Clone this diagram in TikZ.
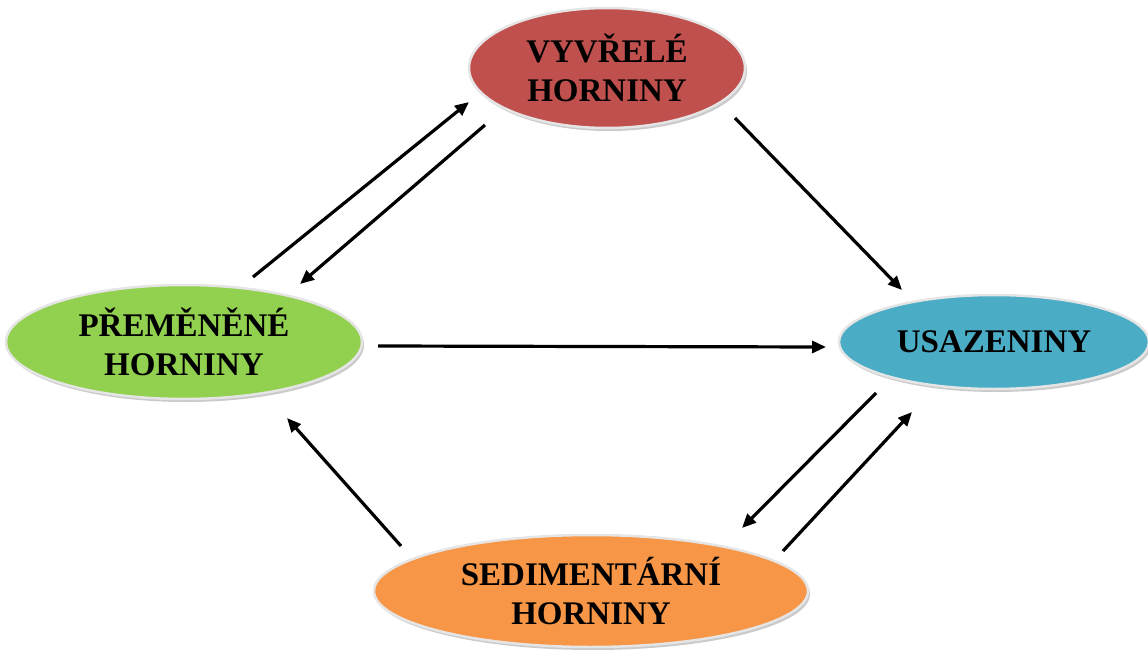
\documentclass[tikz,border=0pt]{standalone}
\usepackage{fontspec}
\setmainfont{Liberation Serif}
\usetikzlibrary{shapes.geometric,arrows.meta,shadows}
\definecolor{rockRed}{RGB}{192,80,77}
\definecolor{rockGreen}{RGB}{146,208,80}
\definecolor{rockBlue}{RGB}{75,172,198}
\definecolor{rockOrange}{RGB}{247,150,70}
\begin{document}
\begin{tikzpicture}[x=1pt,y=1pt,yscale=-1,xscale=1,
  rock/.style={ellipse,draw=black!10,line width=2.5pt,inner sep=0pt,align=center,
    font=\fontsize{33}{39}\selectfont\bfseries,
    drop shadow={shadow xshift=2pt,shadow yshift=-3pt,opacity=0.35,fill=black!60}},
  arr/.style={-{Triangle[length=14pt,width=12pt]},line width=3.2pt}]
\useasboundingbox (0,0) rectangle (1148,650);

%Ellipses
\node [rock,fill=rockRed,minimum width=276pt,minimum height=120pt] (vyv) at (607,68) {VYVŘELÉ\\HORNINY};
\node [rock,fill=rockGreen,minimum width=356pt,minimum height=114pt] (prem) at (184,342) {PŘEMĚNĚNÉ\\HORNINY};
\node [rock,fill=rockBlue,minimum width=310pt,minimum height=94pt] (usaz) at (994,342) {USAZENINY};
\node [rock,fill=rockOrange,minimum width=434pt,minimum height=112pt] (sed) at (591,591) {SEDIMENTÁRNÍ\\HORNINY};

%Straight Lines
\draw [arr] ([shift={(69,-65)}]prem.center) -- ([shift={(-138,34)}]vyv.center);
\draw [arr] ([shift={(-122,57)}]vyv.center) -- ([shift={(116,-58)}]prem.center);
\draw [arr] ([shift={(128,50)}]vyv.center) -- ([shift={(-92,-52)}]usaz.center);
\draw [arr] ([shift={(194,4)}]prem.center) -- ([shift={(-168,5)}]usaz.center);
\draw [arr] ([shift={(-118,51)}]usaz.center) -- ([shift={(151,-63)}]sed.center);
\draw [arr] ([shift={(192,-40)}]sed.center) -- ([shift={(-82,70)}]usaz.center);
\draw [arr] ([shift={(-190,-45)}]sed.center) -- ([shift={(103,76)}]prem.center);
\end{tikzpicture}
\end{document}
